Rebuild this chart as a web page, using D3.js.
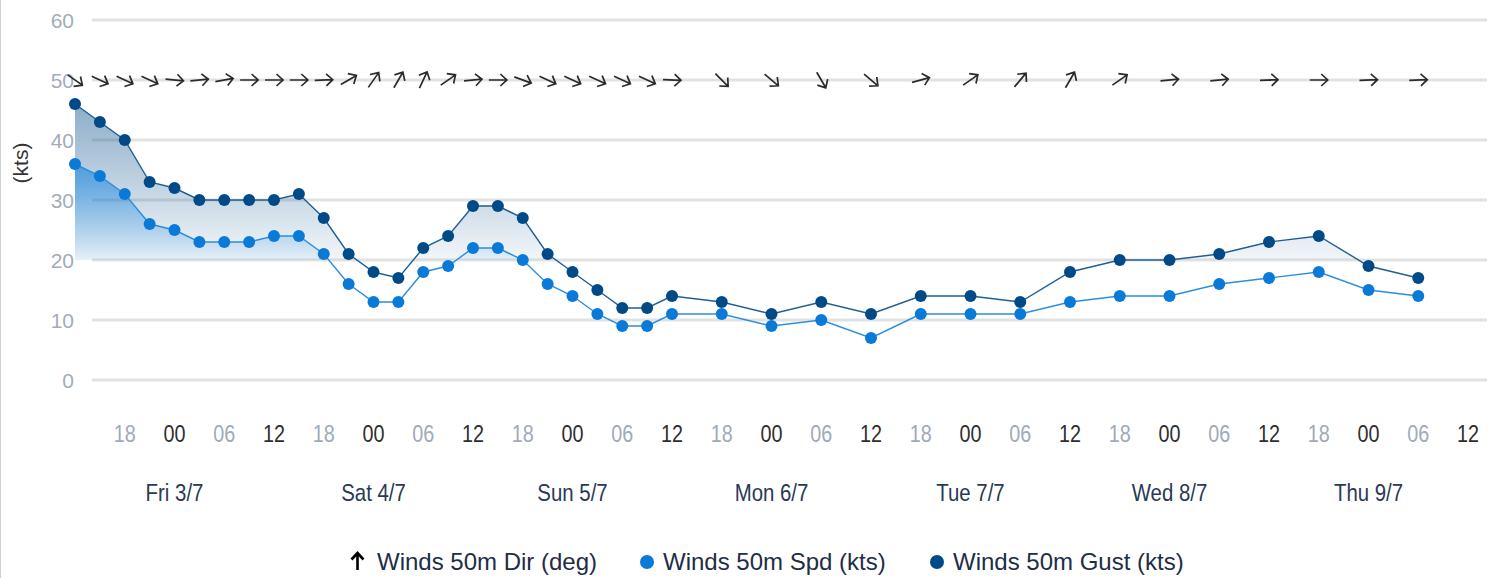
<!DOCTYPE html>
<html>
<head>
<meta charset="utf-8">
<script src="https://cdn.jsdelivr.net/npm/d3@7"></script>
<style>
  body { margin: 0; background: #fff; }
  svg { display: block; }
</style>
</head>
<body>
<script>
'use strict';

// hours after the first forecast step (Thu 2/7 12:00)
var stepHours = [0, 3, 6, 9, 12, 15, 18, 21, 24, 27, 30, 33, 36, 39, 42, 45, 48, 51, 54, 57,
  60, 63, 66, 69, 72, 78, 84, 90, 96, 102, 108, 114, 120, 126, 132, 138, 144, 150, 156, 162];
var gust = [46, 43, 40, 33, 32, 30, 30, 30, 30, 31, 27, 21, 18, 17, 22, 24, 29, 29, 27, 21,
  18, 15, 12, 12, 14, 13, 11, 13, 11, 14, 14, 13, 18, 20, 20, 21, 23, 24, 19, 17];
var speed = [36, 34, 31, 26, 25, 23, 23, 23, 24, 24, 21, 16, 13, 13, 18, 19, 22, 22, 20, 16,
  14, 11, 9, 9, 11, 11, 9, 10, 7, 11, 11, 11, 13, 14, 14, 16, 17, 18, 15, 14];
// wind direction, degrees (from)
var direction = [305, 295, 295, 295, 275, 265, 260, 270, 270, 270, 268, 240, 215, 210, 205, 235, 265, 270, 290, 295,
  295, 295, 295, 295, 272, 315, 310, 330, 310, 255, 235, 220, 210, 235, 265, 265, 268, 270, 268, 268];
var yTicks = [0, 10, 20, 30, 40, 50, 60];
var seriesNames = ['Winds 50m Dir (deg)', 'Winds 50m Spd (kts)', 'Winds 50m Gust (kts)'];

var width = 1500;
var height = 578;
var start = new Date(2020, 6, 2, 12);
var end = new Date(2020, 6, 9, 12);

var times = stepHours.map(function(h) { return d3.timeHour.offset(start, h); });

var x = d3.scaleTime().domain([start, end]).range([75, 1468]);
var y = d3.scaleLinear().domain([0, 60]).range([380, 20]);

var svg = d3.select('body').append('svg')
  .attr('width', width)
  .attr('height', height)
  .style('font-family', '"Liberation Sans", Arial, sans-serif');

var defs = svg.append('defs');

function gradient(id, color, top, alpha) {
  var g = defs.append('linearGradient')
    .attr('id', id)
    .attr('gradientUnits', 'userSpaceOnUse')
    .attr('x1', 0).attr('x2', 0)
    .attr('y1', y(top)).attr('y2', y(20));
  g.append('stop').attr('offset', 0).attr('stop-color', color).attr('stop-opacity', alpha);
  g.append('stop').attr('offset', 1).attr('stop-color', color).attr('stop-opacity', 0.05);
  g.append('stop').attr('offset', 1).attr('stop-color', color).attr('stop-opacity', 0);
}
gradient('gustFill', '#004a87', 46, 0.45);
gradient('spdFill', '#0a7fe0', 36, 0.6);

svg.append('line')
  .attr('x1', 0.5).attr('x2', 0.5).attr('y1', 0).attr('y2', height)
  .attr('stroke', '#d0d0d0');

// grid
svg.append('g').selectAll('line')
  .data(yTicks)
  .enter().append('line')
  .attr('x1', 92).attr('x2', 1487)
  .attr('y1', function(d) { return y(d); })
  .attr('y2', function(d) { return y(d); })
  .attr('stroke', '#e2e2e2')
  .attr('stroke-width', 3);

svg.append('g').selectAll('text')
  .data(yTicks)
  .enter().append('text')
  .attr('x', 74)
  .attr('y', function(d) { return y(d) + 8; })
  .attr('text-anchor', 'end')
  .attr('fill', '#a3acba')
  .style('font-size', '21px')
  .text(function(d) { return d; });

svg.append('text')
  .attr('transform', 'translate(28,163) rotate(-90)')
  .attr('text-anchor', 'middle')
  .attr('fill', '#333')
  .style('font-size', '21px')
  .text('(kts)');

// x axis labels (narrow glyphs)
var hourTicks = d3.timeHour.every(6).range(d3.timeHour.offset(start, 6), d3.timeHour.offset(end, 1));
svg.append('g').selectAll('text')
  .data(hourTicks)
  .enter().append('text')
  .attr('transform', function(d) { return 'translate(' + x(d) + ',442) scale(0.86,1)'; })
  .attr('text-anchor', 'middle')
  .attr('fill', function(d) { return d.getHours() % 12 === 0 ? '#2e2e2e' : '#a0aaba'; })
  .style('font-size', '23px')
  .text(d3.timeFormat('%H'));

var days = d3.timeDay.range(d3.timeDay.ceil(start), end);
svg.append('g').selectAll('text')
  .data(days)
  .enter().append('text')
  .attr('transform', function(d) { return 'translate(' + x(d) + ',501) scale(0.85,1)'; })
  .attr('text-anchor', 'middle')
  .attr('fill', '#2a3a55')
  .style('font-size', '24px')
  .text(d3.timeFormat('%a %-d/%-m'));

// areas
function area(values) {
  return d3.area()
    .x(function(d, i) { return x(times[i]); })
    .y0(y(0))
    .y1(function(d) { return y(d); })(values);
}
function line(values) {
  return d3.line()
    .x(function(d, i) { return x(times[i]); })
    .y(function(d) { return y(d); })(values);
}

svg.append('path').attr('d', area(gust)).attr('fill', 'url(#gustFill)');
svg.append('path').attr('d', area(speed)).attr('fill', 'url(#spdFill)');

svg.append('path').attr('d', line(gust))
  .attr('fill', 'none').attr('stroke', '#1d5f95').attr('stroke-width', 1.4);
svg.append('path').attr('d', line(speed))
  .attr('fill', 'none').attr('stroke', '#2a8ee0').attr('stroke-width', 1.4);

function dots(values, color) {
  svg.append('g').selectAll('circle')
    .data(values)
    .enter().append('circle')
    .attr('cx', function(d, i) { return x(times[i]); })
    .attr('cy', function(d) { return y(d); })
    .attr('r', 6)
    .attr('fill', color);
}
dots(speed, '#0a7ad8');
dots(gust, '#004a87');

// direction arrows, pointing where the wind goes
svg.append('g').selectAll('path')
  .data(direction)
  .enter().append('path')
  .attr('transform', function(d, i) {
    return 'translate(' + x(times[i]) + ',' + y(50) + ') rotate(' + (d + 180 - 90) + ')';
  })
  .attr('d', 'M-9,0L9,0M2.5,-6L9,0L2.5,6')
  .attr('fill', 'none')
  .attr('stroke', '#2b2b2b')
  .attr('stroke-width', 1.7);

// legend
var legend = svg.append('g').style('font-size', '24px');
legend.append('path')
  .attr('d', 'M357.5,570L357.5,553M351.5,559.5L357.5,553L363.5,559.5')
  .attr('fill', 'none')
  .attr('stroke', '#000')
  .attr('stroke-width', 2.6);
legend.append('text')
  .attr('x', 377).attr('y', 570)
  .attr('fill', '#1f2d45')
  .text(seriesNames[0]);
legend.append('circle').attr('cx', 647).attr('cy', 562).attr('r', 7).attr('fill', '#0a7ad8');
legend.append('text')
  .attr('x', 663).attr('y', 570)
  .attr('fill', '#1f2d45')
  .text(seriesNames[1]);
legend.append('circle').attr('cx', 937).attr('cy', 562).attr('r', 7).attr('fill', '#004a87');
legend.append('text')
  .attr('x', 953).attr('y', 570)
  .attr('fill', '#1f2d45')
  .text(seriesNames[2]);
</script>
</body>
</html>
